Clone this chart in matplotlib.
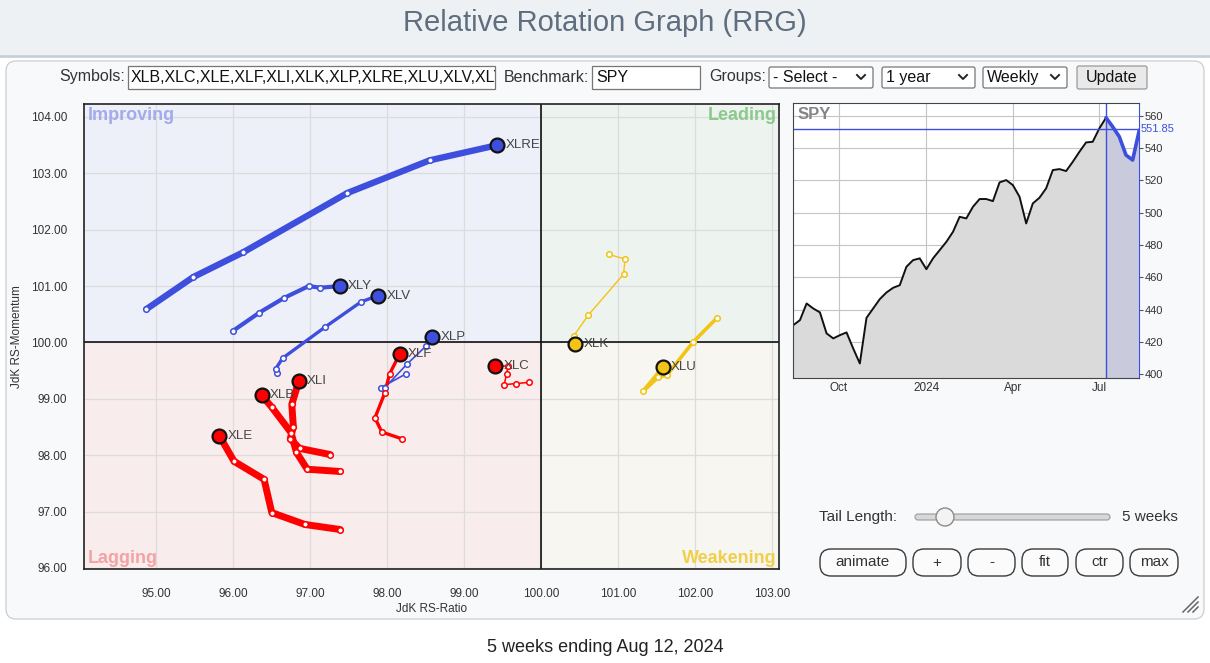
import matplotlib
matplotlib.use("Agg")
import matplotlib.pyplot as plt
from matplotlib.patches import FancyBboxPatch, Rectangle, Circle
from matplotlib.transforms import blended_transform_factory
import pandas as pd

plt.rcParams["font.family"] = ["Liberation Sans", "DejaVu Sans"]

W, H = 1210, 663

# RRG tails, oldest week first, last entry is the head (week ending Aug 12, 2024)
SYMBOLS = ["XLRE", "XLY", "XLV", "XLP", "XLF", "XLI", "XLB", "XLE", "XLC", "XLK", "XLU"]
XLRE_RATIO = [94.87, 95.48, 96.13, 97.48, 98.55, 99.43]
XLRE_MOM = [100.59, 101.16, 101.60, 102.65, 103.23, 103.50]
XLY_RATIO = [95.99, 96.34, 96.66, 96.98, 97.13, 97.38]
XLY_MOM = [100.20, 100.53, 100.79, 101.00, 100.97, 101.00]
XLV_RATIO = [96.57, 96.55, 96.64, 97.19, 97.66, 97.88]
XLV_MOM = [99.45, 99.53, 99.72, 100.27, 100.72, 100.83]
XLP_RATIO = [98.24, 97.92, 97.97, 98.26, 98.50, 98.58]
XLP_MOM = [99.44, 99.20, 99.20, 99.62, 99.93, 100.09]
XLF_RATIO = [98.19, 97.93, 97.84, 97.97, 98.03, 98.16]
XLF_MOM = [98.29, 98.41, 98.66, 99.11, 99.44, 99.79]
XLI_RATIO = [97.26, 96.86, 96.74, 96.78, 96.76, 96.85]
XLI_MOM = [98.01, 98.12, 98.29, 98.50, 98.90, 99.31]
XLB_RATIO = [97.39, 96.96, 96.82, 96.75, 96.50, 96.37]
XLB_MOM = [97.71, 97.75, 98.05, 98.40, 98.85, 99.06]
XLE_RATIO = [97.39, 96.93, 96.50, 96.40, 96.01, 95.82]
XLE_MOM = [96.68, 96.77, 96.98, 97.57, 97.89, 98.34]
XLC_RATIO = [99.84, 99.67, 99.52, 99.55, 99.57, 99.40]
XLC_MOM = [99.29, 99.27, 99.25, 99.44, 99.58, 99.58]
XLK_RATIO = [100.88, 101.09, 101.07, 100.61, 100.42, 100.44]
XLK_MOM = [101.56, 101.48, 101.21, 100.48, 100.11, 99.98]
XLU_RATIO = [102.28, 101.97, 101.64, 101.52, 101.32, 101.58]
XLU_MOM = [100.43, 100.00, 99.43, 99.38, 99.13, 99.56]

RATIO_TICKS = [95, 96, 97, 98, 99, 100, 101, 102, 103]
MOM_TICKS = [96, 97, 98, 99, 100, 101, 102, 103, 104]

# SPY weekly closes, Aug 14 2023 -> Aug 12 2024
SPY_CLOSE = [430.5, 433.6, 443.9, 440.8, 438.4, 425.4, 422.3, 424.3, 426.0, 416.1,
             406.8, 435.0, 440.8, 446.6, 450.7, 453.6, 455.2, 466.6, 470.7, 471.8,
             465.1, 471.8, 476.9, 482.0, 488.2, 497.5, 496.5, 503.7, 508.5, 508.5,
             507.2, 518.8, 520.2, 517.1, 509.9, 493.4, 505.8, 509.3, 515.1, 526.4,
             527.0, 525.8, 531.5, 537.7, 543.5, 543.9, 552.2, 558.8, 553.2, 547.0,
             535.7, 532.6, 551.1]
SPY_LAST = 551.85
SPY_TICKS = [400, 420, 440, 460, 480, 500, 520, 540, 560]
SPY_MONTHS = ["2023-10-01", "2024-01-01", "2024-04-01", "2024-07-01"]
SPY_MONTH_LABELS = ["Oct", "2024", "Apr", "Jul"]
TAIL_WEEKS = 5

# line widths of the tails
TAIL_LW = {"XLRE": 4.6, "XLY": 3.0, "XLV": 2.4, "XLP": 1.2, "XLF": 2.4, "XLI": 5.0,
           "XLB": 5.0, "XLE": 5.0, "XLC": 1.1, "XLK": 1.0, "XLU": 2.6}

BLUE = "#3d4fdc"
RED = "#ff0000"
YELLOW = "#f2c415"
GREEN = "#2ea02e"


def head_color(x, y):
    if x >= 100 and y >= 100:
        return GREEN
    if x < 100 and y >= 100:
        return BLUE
    if x < 100:
        return RED
    return YELLOW


fig = plt.figure(figsize=(W / 100, H / 100), dpi=100)
fig.patch.set_facecolor("white")

# page background, drawn in pixel coordinates
bg = fig.add_axes([0, 0, 1, 1], zorder=0)
bg.set_xlim(0, W)
bg.set_ylim(H, 0)
bg.axis("off")

bg.add_patch(Rectangle((0, 0), W, 55, facecolor="#eef1f4", edgecolor="none"))
bg.plot([0, W], [56, 56], color="#c6cfd8", lw=2)
bg.text(605, 23, "Relative Rotation Graph (RRG)", ha="center", va="center",
        fontsize=21, color="#5e6e7f")

bg.add_patch(FancyBboxPatch((6, 61), 1198, 558, boxstyle="round,pad=0,rounding_size=10",
                            facecolor="#f8f9fa", edgecolor="#cfd2d5", lw=1))

# top control bar
TXT = "#333333"
bg.text(125, 77, "Symbols:", ha="right", va="center", fontsize=11.5, color=TXT)
sym_box = Rectangle((128, 66), 367, 23, facecolor="white", edgecolor="#767676", lw=0.9)
bg.add_patch(sym_box)
t = bg.text(131, 77.5, "XLB,XLC,XLE,XLF,XLI,XLK,XLP,XLRE,XLU,XLV,XLY", ha="left",
            va="center", fontsize=11.5, color="#111")
t.set_clip_on(True)
t.set_clip_path(sym_box)
bg.text(504, 77, "Benchmark:", ha="left", va="center", fontsize=11.5, color=TXT)
bg.add_patch(Rectangle((592, 66), 108, 23, facecolor="white", edgecolor="#767676", lw=0.9))
bg.text(596, 77.5, "SPY", ha="left", va="center", fontsize=11.5, color="#111")
bg.text(709, 77, "Groups:", ha="left", va="center", fontsize=11.5, color=TXT)
for x0, x1, label in [(769, 873, "- Select -"), (882, 975, "1 year"), (983, 1067, "Weekly")]:
    bg.add_patch(FancyBboxPatch((x0, 67), x1 - x0, 21, boxstyle="round,pad=0,rounding_size=2",
                                facecolor="white", edgecolor="#767676", lw=0.9))
    bg.text(x0 + 4, 77.5, label, ha="left", va="center", fontsize=11.5, color="#111")
    cx = x1 - 12
    bg.plot([cx - 4, cx, cx + 4], [75, 79, 75], color="#222", lw=1.4)
bg.add_patch(FancyBboxPatch((1077, 66), 70, 23, boxstyle="round,pad=0,rounding_size=2",
                            facecolor="#e9e9e9", edgecolor="#9a9a9a", lw=0.9))
bg.text(1112, 77.5, "Update", ha="center", va="center", fontsize=11.5, color="#111")

# tail length slider and buttons
bg.text(819, 517, "Tail Length:", ha="left", va="center", fontsize=11, color=TXT)
bg.add_patch(FancyBboxPatch((915, 514), 195, 6, boxstyle="round,pad=0,rounding_size=3",
                            facecolor="#d8d8d8", edgecolor="#9a9a9a", lw=0.8))
bg.add_patch(Circle((945, 517), 9, facecolor="#f3f3f3", edgecolor="#8a8a8a", lw=1, zorder=3))
bg.text(1122, 517, "5 weeks", ha="left", va="center", fontsize=11, color=TXT)
for x0, x1, label in [(820, 906, "animate"), (913, 961, "+"), (968, 1015, "-"),
                      (1022, 1068, "fit"), (1076, 1123, "ctr"), (1130, 1178, "max")]:
    bg.add_patch(FancyBboxPatch((x0, 549), x1 - x0, 27, boxstyle="round,pad=0,rounding_size=11",
                                facecolor="#fbfbfb", edgecolor="#3a3a3a", lw=1))
    bg.text((x0 + x1) / 2, 562.5, label, ha="center", va="center", fontsize=11, color=TXT)
for k in range(3):
    off = 5 * k
    bg.plot([1183 + off, 1198], [612, 597 + off], color="#666", lw=1.1)

bg.text(605, 648, "5 weeks ending Aug 12, 2024", ha="center", va="center",
        fontsize=13, color="#222")

# main RRG
ax = fig.add_axes([84 / W, 1 - 569 / H, (779 - 84) / W, (569 - 104) / H], zorder=2)
X0, X1 = 94.06, 103.09
Y0, Y1 = 95.98, 104.23
ax.set_xlim(X0, X1)
ax.set_ylim(Y0, Y1)
ax.add_patch(Rectangle((X0, 100), 100 - X0, Y1 - 100, facecolor="#eef0f9", edgecolor="none", zorder=0))
ax.add_patch(Rectangle((100, 100), X1 - 100, Y1 - 100, facecolor="#edf3ee", edgecolor="none", zorder=0))
ax.add_patch(Rectangle((X0, Y0), 100 - X0, 100 - Y0, facecolor="#f9ecec", edgecolor="none", zorder=0))
ax.add_patch(Rectangle((100, Y0), X1 - 100, 100 - Y0, facecolor="#f8f6f0", edgecolor="none", zorder=0))
ax.set_axisbelow(True)
ax.grid(color="#dcdcdc", lw=0.9)
ax.axvline(100, color="#111", lw=1.2, zorder=1)
ax.axhline(100, color="#111", lw=1.2, zorder=1)

ax.text(0.005, 0.993, "Improving", transform=ax.transAxes, ha="left", va="top",
        fontsize=13, fontweight="bold", color="#a3abea")
ax.text(0.997, 0.993, "Leading", transform=ax.transAxes, ha="right", va="top",
        fontsize=13, fontweight="bold", color="#8cc98c")
ax.text(0.005, 0.005, "Lagging", transform=ax.transAxes, ha="left", va="bottom",
        fontsize=13, fontweight="bold", color="#f3a3a3")
ax.text(0.997, 0.005, "Weakening", transform=ax.transAxes, ha="right", va="bottom",
        fontsize=13, fontweight="bold", color="#f0d04a")

tails = {
    "XLRE": (XLRE_RATIO, XLRE_MOM), "XLY": (XLY_RATIO, XLY_MOM), "XLV": (XLV_RATIO, XLV_MOM),
    "XLP": (XLP_RATIO, XLP_MOM), "XLF": (XLF_RATIO, XLF_MOM), "XLI": (XLI_RATIO, XLI_MOM),
    "XLB": (XLB_RATIO, XLB_MOM), "XLE": (XLE_RATIO, XLE_MOM), "XLC": (XLC_RATIO, XLC_MOM),
    "XLK": (XLK_RATIO, XLK_MOM), "XLU": (XLU_RATIO, XLU_MOM),
}
for sym in SYMBOLS:
    xs, ys = tails[sym]
    c = head_color(xs[-1], ys[-1])
    ax.plot(xs, ys, color=c, lw=TAIL_LW[sym], solid_capstyle="round",
            solid_joinstyle="round", zorder=3)
    ax.plot(xs[:-1], ys[:-1], "o", ms=4, mfc="white", mec=c, mew=1.1, zorder=4)
    ax.plot(xs[-1], ys[-1], "o", ms=10, mfc=c, mec="#111", mew=1.6, zorder=5)
    ax.annotate(sym, (xs[-1], ys[-1]), xytext=(6, 0), textcoords="offset points",
                ha="left", va="center", fontsize=9.5, color="#444", zorder=6)

ax.set_xticks(RATIO_TICKS)
ax.set_xticklabels([f"{v:.2f}" for v in RATIO_TICKS])
ax.set_yticks(MOM_TICKS)
ax.set_yticklabels([f"{v:.2f}" for v in MOM_TICKS])
ax.tick_params(axis="x", length=0, pad=14, labelsize=8.5, labelcolor="#333")
ax.tick_params(axis="y", length=0, pad=12, labelsize=8.5, labelcolor="#333")
ax.set_xlabel("JdK RS-Ratio", fontsize=8.5, color="#333", labelpad=2)
ax.set_ylabel("JdK RS-Momentum", fontsize=8.5, color="#333", labelpad=6)
for sp in ax.spines.values():
    sp.set_color("#222")
    sp.set_linewidth(1.2)

# SPY benchmark panel
spx = fig.add_axes([793.3 / W, 1 - 377.7 / H, 346 / W, 274.4 / H], zorder=2)
spy_dates = pd.date_range(end="2024-08-12", periods=len(SPY_CLOSE), freq="7D")
k = len(SPY_CLOSE) - 1 - TAIL_WEEKS
spx.set_facecolor("white")
spx.fill_between(spy_dates[:k + 1], SPY_CLOSE[:k + 1], 398, color="#dadada", lw=0)
spx.fill_between(spy_dates[k:], SPY_CLOSE[k:], 398, color="#c9cbdd", lw=0)
spx.plot(spy_dates[:k + 1], SPY_CLOSE[:k + 1], color="#111", lw=1.4)
spx.plot(spy_dates[k:], SPY_CLOSE[k:], color=BLUE, lw=2.6, solid_capstyle="round")
spx.axvline(spy_dates[k], color=BLUE, lw=1)
spx.axhline(SPY_LAST, color=BLUE, lw=1)
spx.set_xlim(spy_dates[0], spy_dates[-1])
spx.set_ylim(398, 567.7)
spx.grid(color="#c4c4c4", lw=0.8)
spx.set_axisbelow(True)
spx.set_xticks(pd.to_datetime(SPY_MONTHS))
spx.set_xticklabels(SPY_MONTH_LABELS)
spx.yaxis.tick_right()
spx.set_yticks(SPY_TICKS)
spx.set_yticklabels([str(v) for v in SPY_TICKS])
spx.tick_params(axis="x", length=0, pad=3, labelsize=8.5, labelcolor="#333")
spx.tick_params(axis="y", length=3, pad=1, labelsize=8, labelcolor="#333", color="#555")
for sp in spx.spines.values():
    sp.set_color("#444")
spx.spines["right"].set_color(BLUE)
spx.text(1.004, SPY_LAST, f"{SPY_LAST:.2f}", color=BLUE, fontsize=8, ha="left", va="center",
         transform=blended_transform_factory(spx.transAxes, spx.transData))
spx.text(0.012, 0.985, "SPY", transform=spx.transAxes, ha="left", va="top",
         fontsize=12, fontweight="bold", color="#858585")

fig.savefig("out.png", dpi=100)
